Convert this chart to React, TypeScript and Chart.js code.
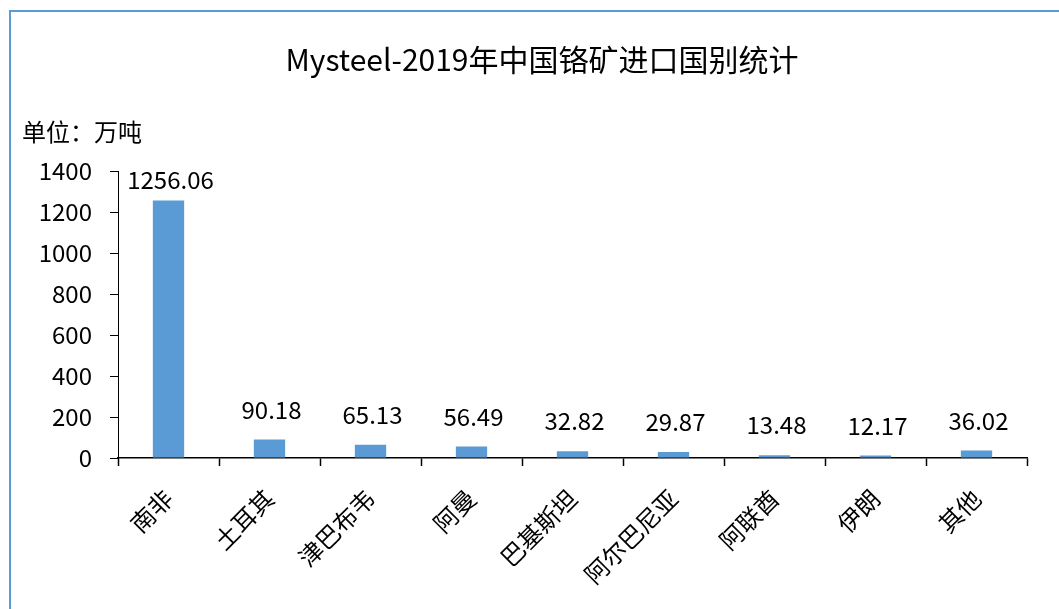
import React, { useEffect, useRef } from "react";
import { Chart, registerables } from "chart.js";

Chart.register(...registerables);

const TITLE = "Mysteel-2019年中国铬矿进口国别统计";
const UNIT_LABEL = "单位：万吨";
const categories = ["南非", "土耳其", "津巴布韦", "阿曼", "巴基斯坦", "阿尔巴尼亚", "阿联酋", "伊朗", "其他"];
const values = [1256.06, 90.18, 65.13, 56.49, 32.82, 29.87, 13.48, 12.17, 36.02];
const valueLabels = ["1256.06", "90.18", "65.13", "56.49", "32.82", "29.87", "13.48", "12.17", "36.02"];
const Y_MIN = 0;
const Y_MAX = 1400;
const Y_STEP = 200;

const FONT = '"Noto Sans CJK SC", "Microsoft YaHei", sans-serif';
const BLUE = "#5B9BD5";

const decorPlugin = {
  id: "decor",
  beforeDraw(chart: any) {
    const ctx = chart.ctx;
    ctx.save();
    ctx.fillStyle = "#ffffff";
    ctx.fillRect(0, 0, chart.width, chart.height);
    ctx.strokeStyle = BLUE;
    ctx.lineWidth = 2;
    ctx.beginPath();
    ctx.moveTo(10, chart.height + 5);
    ctx.lineTo(10, 11);
    ctx.lineTo(chart.width + 5, 11);
    ctx.stroke();
    ctx.fillStyle = "#000";
    ctx.font = `30px ${FONT}`;
    ctx.textAlign = "center";
    ctx.textBaseline = "middle";
    ctx.fillText(TITLE, 542, 60);
    ctx.font = `24px ${FONT}`;
    ctx.textAlign = "left";
    ctx.fillText(UNIT_LABEL, 22, 132);
    ctx.restore();
  },
  afterDatasetsDraw(chart: any) {
    const ctx = chart.ctx;
    const meta = chart.getDatasetMeta(0);
    ctx.save();
    ctx.fillStyle = "#000";
    ctx.font = `24px ${FONT}`;
    ctx.textAlign = "center";
    ctx.textBaseline = "middle";
    meta.data.forEach((bar: any, i: number) => {
      const y = Math.max(bar.y - 30, chart.chartArea.top + 9);
      ctx.fillText(valueLabels[i], bar.x + 2, y);
    });
    ctx.restore();
  },
};

export default function App() {
  const ref = useRef<HTMLCanvasElement>(null);
  useEffect(() => {
    if (!ref.current) return;
    const chart = new Chart(ref.current, {
      type: "bar",
      data: {
        labels: categories,
        datasets: [
          {
            data: values,
            backgroundColor: BLUE,
            borderWidth: 0,
            barPercentage: 0.31,
            categoryPercentage: 1,
          },
        ],
      },
      options: {
        responsive: false,
        animation: false,
        devicePixelRatio: 1,
        layout: { padding: { top: 171, right: 32, left: 0, bottom: 0 } },
        plugins: {
          legend: { display: false },
          title: { display: false },
          tooltip: { enabled: false },
        },
        scales: {
          x: {
            offset: true,
            grid: {
              offset: true,
              drawOnChartArea: false,
              drawTicks: true,
              tickLength: 8,
              tickColor: "#000",
              tickWidth: 1.5,
            },
            border: { color: "#000", width: 1.5 },
            ticks: {
              color: "#000",
              font: { family: FONT, size: 24 },
              maxRotation: 45,
              minRotation: 45,
              padding: 18,
              autoSkip: false,
            },
            afterFit(scale: any) {
              scale.height = 151;
              scale.paddingLeft = 0;
              scale.paddingRight = 0;
            },
          },
          y: {
            min: Y_MIN,
            max: Y_MAX,
            grid: {
              drawOnChartArea: false,
              drawTicks: true,
              tickLength: 8,
              tickColor: "#000",
            },
            border: { color: "#000", width: 1 },
            ticks: {
              stepSize: Y_STEP,
              color: "#000",
              font: { family: FONT, size: 24 },
              padding: 18,
              callback: (v: any) => String(v),
            },
            afterFit(scale: any) {
              scale.width = 118;
              scale.paddingTop = 0;
              scale.paddingBottom = 0;
            },
          },
        },
      },
      plugins: [decorPlugin],
    });
    return () => chart.destroy();
  }, []);
  return (
    <div style={{ position: "fixed", left: 0, top: 0, width: 1059, height: 609, background: "#fff" }}>
      <canvas ref={ref} width={1059} height={609} />
    </div>
  );
}
